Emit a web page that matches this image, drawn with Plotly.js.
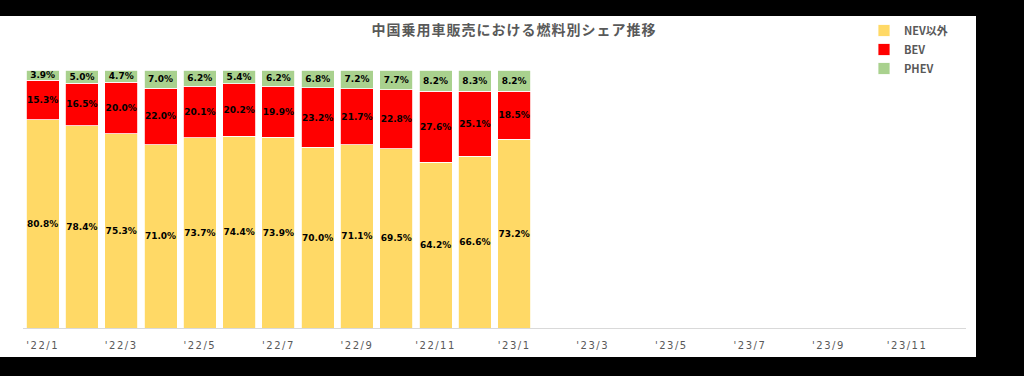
<!DOCTYPE html>
<html>
<head>
<meta charset="utf-8">
<script src="https://cdn.plot.ly/plotly-3.0.1.min.js"></script>
<style>
  html, body { margin: 0; padding: 0; background: #000; width: 1024px; height: 376px; overflow: hidden; }
  #chart { position: absolute; left: 0; top: 16px; width: 976px; height: 341px; background: #fff; }
  .xtick text { letter-spacing: 1.5px; }
  .gtitle { letter-spacing: 1px; }
</style>
</head>
<body>
<div id="chart"></div>
<script>
const months = ["'22/1","'22/2","'22/3","'22/4","'22/5","'22/6","'22/7","'22/8","'22/9","'22/10","'22/11","'22/12",
                "'23/1","'23/2","'23/3","'23/4","'23/5","'23/6","'23/7","'23/8","'23/9","'23/10","'23/11","'23/12"];
const dataMonths = months.slice(0, 13);
const nonNev = [80.8, 78.4, 75.3, 71.0, 73.7, 74.4, 73.9, 70.0, 71.1, 69.5, 64.2, 66.6, 73.2];
const bev    = [15.3, 16.5, 20.0, 22.0, 20.1, 20.2, 19.9, 23.2, 21.7, 22.8, 27.6, 25.1, 18.5];
const phev   = [3.9, 5.0, 4.7, 7.0, 6.2, 5.4, 6.2, 6.8, 7.2, 7.7, 8.2, 8.3, 8.2];
const seriesNames = ['NEV以外', 'BEV', 'PHEV'];
const colors = ['#FFD966', '#FF0000', '#A9D18E'];

const labelFont = {family: 'DejaVu Sans, Verdana, sans-serif', size: 9, color: '#000', weight: 'bold'};
function mk(name, vals, color) {
  return {
    type: 'bar', name: name, x: dataMonths, y: vals,
    marker: {color: color, line: {color: '#ffffff', width: 0.8}},
    texttemplate: '%{y:.1f}%', textposition: 'inside', insidetextanchor: 'middle',
    textangle: 0, constraintext: 'none', insidetextfont: labelFont,
    cliponaxis: false, hoverinfo: 'skip'
  };
}
const traces = [mk(seriesNames[0], nonNev, colors[0]), mk(seriesNames[1], bev, colors[1]), mk(seriesNames[2], phev, colors[2])];

const layout = {
  width: 976, height: 341,
  paper_bgcolor: '#ffffff', plot_bgcolor: '#ffffff',
  margin: {l: 23, r: 10, t: 54, b: 29, autoexpand: false},
  barmode: 'stack', bargap: 0.16,
  uniformtext: {mode: 'show', minsize: 9},
  title: {text: '中国乗用車販売における燃料別シェア推移', x: 514/976, xref: 'container', xanchor: 'center',
          y: 1 - 14/341, yref: 'container', yanchor: 'middle',
          font: {family: 'Noto Sans CJK JP, sans-serif', size: 14, color: '#595959', weight: 'bold'}},
  xaxis: {type: 'category', categoryorder: 'array', categoryarray: months, range: [-0.5, 23.5],
          tickmode: 'linear', tick0: 0, dtick: 2, showline: true, linecolor: '#D9D9D9', linewidth: 1,
          ticks: '', showgrid: false, zeroline: false, ticklabelstandoff: 8, automargin: false,
          tickfont: {family: 'DejaVu Sans, Verdana, sans-serif', size: 10, color: '#595959'}, fixedrange: true},
  yaxis: {range: [0, 100.02], visible: false, showgrid: false, zeroline: false, fixedrange: true},
  showlegend: true,
  legend: {x: 864/976, xref: 'container', xanchor: 'left', y: 1 + 5/341, yref: 'container', yanchor: 'top',
           traceorder: 'normal', bgcolor: 'rgba(0,0,0,0)',
           font: {family: 'Noto Sans CJK JP, sans-serif', size: 11, color: '#595959', weight: 'bold'},
           itemwidth: 30, tracegroupgap: 0}
};
Plotly.newPlot('chart', traces, layout, {displayModeBar: false, staticPlot: true});
</script>
</body>
</html>
